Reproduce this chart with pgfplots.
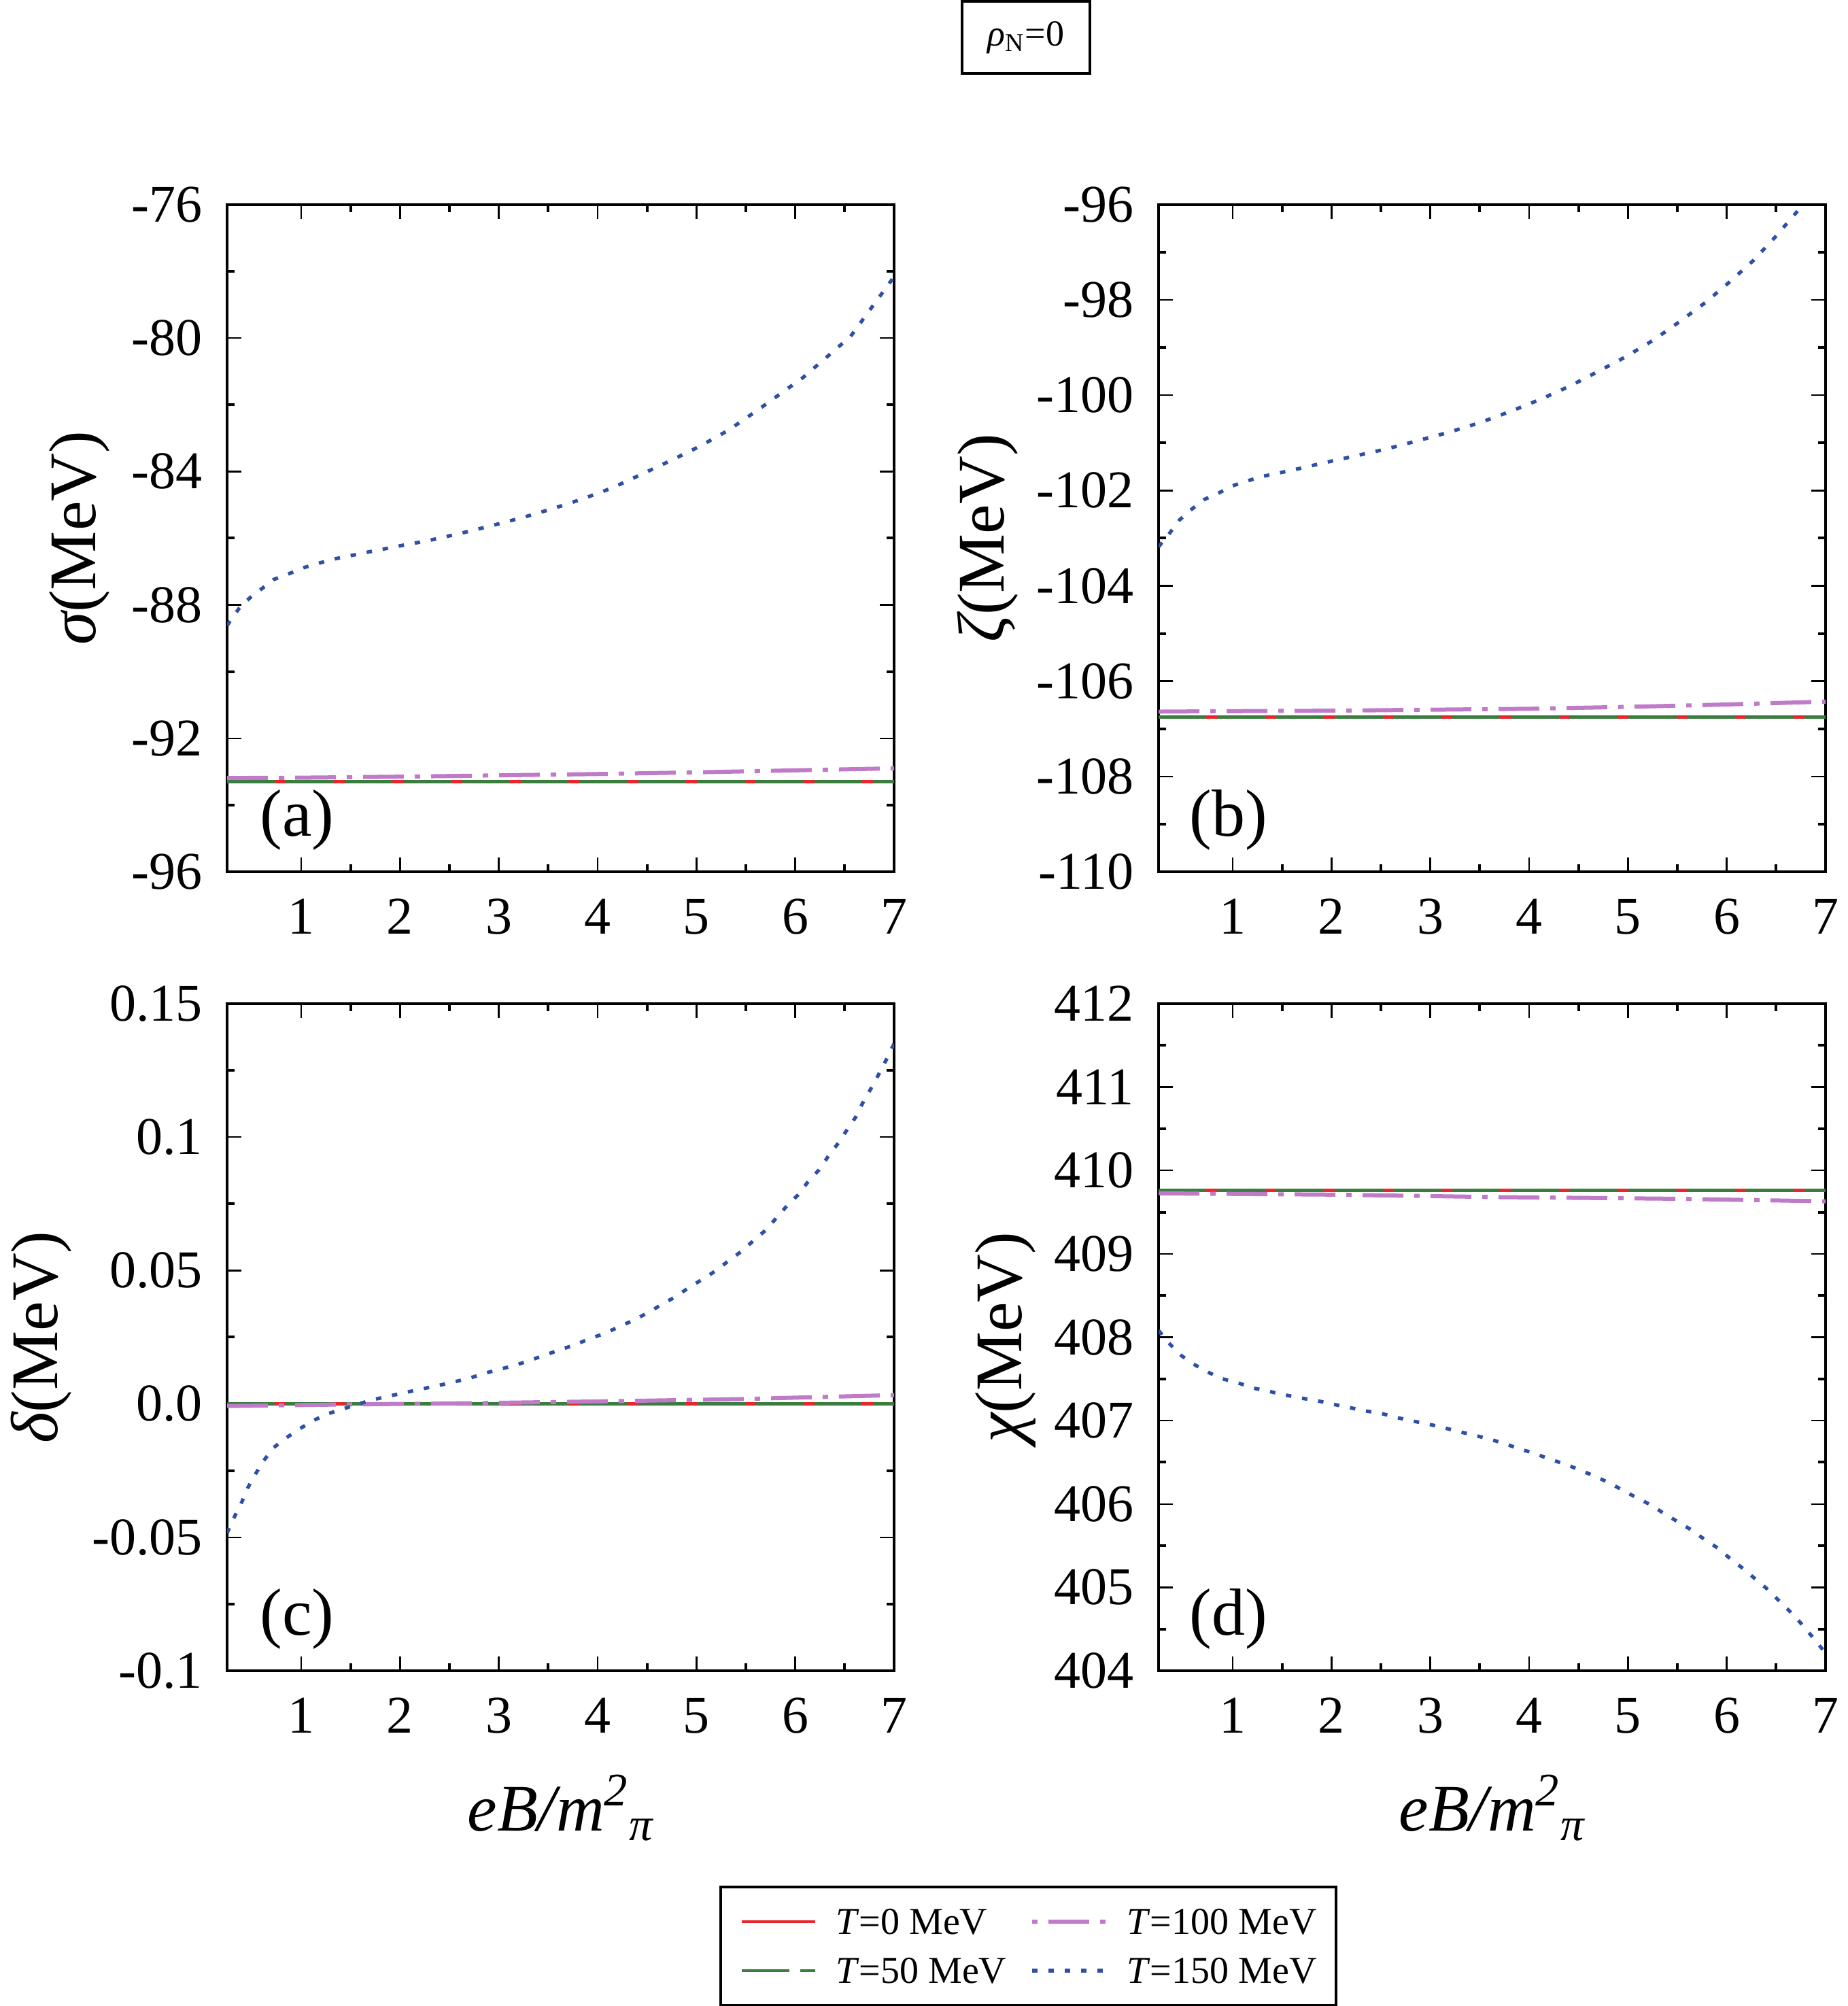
\documentclass[border=0pt]{standalone}
\usepackage{fontspec}
\setmainfont{Liberation Serif}
\newfontfamily\tnr{Liberation Serif}
\usepackage{pgfplots}
\pgfplotsset{compat=1.18}
\definecolor{cred}{HTML}{E8262B}
\definecolor{cgreen}{HTML}{3A7D3E}
\definecolor{cviolet}{HTML}{C07BC8}
\definecolor{cblue}{HTML}{2F4FA5}
\newcommand{\tl}[1]{\textrm{\tnr #1}}
\pgfplotsset{
  panel/.style={
    scale only axis, width=245.25pt, height=245.25pt,
    xmin=0.25, xmax=7,
    xtick={1,2,3,4,5,6,7}, xticklabels={\tl{1},\tl{2},\tl{3},\tl{4},\tl{5},\tl{6},\tl{7}},
    minor x tick num=1, minor y tick num=1,
    xtick pos=both, ytick pos=both,
    tick align=inside,
    major tick length=5.25pt, minor tick length=2.75pt,
    axis line style={line width=0.85pt},
    every major tick/.append style={line width=0.6pt, black},
    every minor tick/.append style={line width=1pt, black},
    tick label style={font=\tnr\fontsize{19.5}{22}\selectfont},
    xticklabel style={yshift=-6.5pt},
    yticklabel style={xshift=-5.5pt},
    every axis x label/.style={at={(rel axis cs:0.5,-0.2396)}, anchor=base,
      font=\tnr\fontsize{24.5}{28}\selectfont},
    legend image code/.code={\draw[#1] (0pt,0pt) -- (27pt,0pt);},
  },
  yl/.style={every axis y label/.style={at={(rel axis cs:#1,0.5)}, rotate=90, anchor=center,
      font=\tnr\fontsize{24.5}{28}\selectfont}},
  xl/.style={xlabel={\tnr\itshape eB/m\textsuperscript{\tnr\itshape 2}\textsubscript{\tnr\itshape π}}},
  t0/.style={color=cred, line width=1.2pt, solid},
  t50/.style={color=cgreen, line width=1.2pt, dash pattern=on 17.6pt off 4pt},
  t100/.style={color=cviolet, line width=1.5pt, dash pattern=on 15pt off 4pt on 2pt off 4pt,
    legend image code/.code={\draw[##1, dash phase=19pt] (0pt,0pt) -- (27pt,0pt);}},
  t150/.style={color=cblue, line width=1.3pt, dash pattern=on 2pt off 4pt},
}
\newcommand{\plab}[1]{\node[font=\tnr\fontsize{24.5}{28}\selectfont] at (rel axis cs:0.105,0.0775) {#1};}
\newcommand{\yl}[1]{\tnr{\itshape #1}(MeV)}
\begin{document}
\begin{tikzpicture}
\useasboundingbox (0,0) rectangle (679.25pt,737.5pt);
\node[draw, line width=1pt, minimum width=47pt, minimum height=26.5pt, inner sep=0pt,
      font=\tnr\fontsize{13.5}{15}\selectfont] at (377.25pt,723.75pt) {{\itshape ρ}\textsubscript{N}=0};

% ---------------- (a) sigma
\begin{axis}[panel, yl=-0.2215, at={(83.5pt,417pt)}, anchor=south west,
  ymin=-96, ymax=-76, ytick={-96,-92,-88,-84,-80,-76},
  yticklabels={\tl{-96},\tl{-92},\tl{-88},\tl{-84},\tl{-80},\tl{-76}},
  ylabel={\yl{σ}}]
\addplot[t0] coordinates {(0.25,-93.30) (1,-93.30) (2,-93.30) (3,-93.30) (4,-93.30) (5,-93.30) (6,-93.30) (7,-93.30)};
\addplot[t50] coordinates {(0.25,-93.30) (1,-93.30) (2,-93.30) (3,-93.30) (4,-93.30) (5,-93.30) (6,-93.30) (7,-93.30)};
\addplot[t100] coordinates {(0.25,-93.19) (1,-93.18) (2,-93.15) (3,-93.11) (4,-93.07) (5,-93.02) (6,-92.96) (7,-92.90)};
\addplot[t150] coordinates {
(0.25,-88.62) (0.30,-88.40) (0.37,-88.11) (0.48,-87.79) (0.59,-87.54) (0.72,-87.24)
(0.88,-87.06) (1.03,-86.88) (1.19,-86.74) (1.34,-86.62) (1.49,-86.53) (1.67,-86.42)
(1.98,-86.24) (2.29,-86.07) (2.62,-85.85) (2.92,-85.63) (3.23,-85.39) (3.54,-85.12)
(3.85,-84.82) (4.15,-84.49) (4.44,-84.09) (4.75,-83.66) (5.03,-83.25) (5.32,-82.77)
(5.61,-82.18) (6.08,-81.18) (6.56,-79.95) (7.00,-78.16)};
\plab{(a)}
\end{axis}

% ---------------- (b) zeta
\begin{axis}[panel, yl=-0.2564, at={(426pt,417pt)}, anchor=south west,
  ymin=-110, ymax=-96, ytick={-110,-108,-106,-104,-102,-100,-98,-96},
  yticklabels={\tl{-110},\tl{-108},\tl{-106},\tl{-104},\tl{-102},\tl{-100},\tl{-98},\tl{-96}},
  ylabel={\yl{ζ}}]
\addplot[t0] coordinates {(0.25,-106.75) (1,-106.75) (2,-106.75) (3,-106.75) (4,-106.75) (5,-106.75) (6,-106.75) (7,-106.75)};
\addplot[t50] coordinates {(0.25,-106.75) (1,-106.75) (2,-106.75) (3,-106.75) (4,-106.75) (5,-106.75) (6,-106.75) (7,-106.75)};
\addplot[t100] coordinates {(0.25,-106.64) (1,-106.63) (2,-106.62) (3,-106.60) (4,-106.58) (5,-106.54) (6,-106.49) (7,-106.43)};
\addplot[t150] coordinates {
(0.25,-103.18) (0.36,-102.90) (0.46,-102.62) (0.58,-102.40) (0.71,-102.19) (0.86,-102.05)
(1.00,-101.90) (1.16,-101.79) (1.31,-101.70) (1.47,-101.63) (1.63,-101.56) (1.94,-101.41)
(2.25,-101.27) (2.57,-101.12) (2.88,-100.95) (3.20,-100.77) (3.51,-100.57) (3.81,-100.34)
(4.11,-100.09) (4.41,-99.81) (4.69,-99.51) (4.98,-99.19) (5.26,-98.84) (5.52,-98.46)
(5.78,-98.06) (6.03,-97.62) (6.27,-97.17) (6.49,-96.68) (6.71,-96.15) (6.78,-95.98) (6.90,-95.65)};
\plab{(b)}
\end{axis}

% ---------------- (c) delta
\begin{axis}[panel, xl, yl=-0.279, at={(83.5pt,123.25pt)}, anchor=south west,
  ymin=-0.1, ymax=0.15, ytick={-0.1,-0.05,0,0.05,0.1,0.15},
  yticklabels={\tl{-0.1},\tl{-0.05},\tl{0.0},\tl{0.05},\tl{0.1},\tl{0.15}},
  ylabel={\yl{δ}},
  legend columns=2, transpose legend, legend cell align=left,
  legend style={at={(1.2013,-0.4128)}, anchor=center, draw=black, line width=1pt,
    font=\tnr\fontsize{14}{16}\selectfont, inner xsep=7pt, inner ysep=8pt, row sep=8.7pt,
    nodes={inner sep=0pt, text height=9.3pt, text depth=0pt},
    cells={anchor=west},
    /tikz/every odd column/.append style={column sep=7pt},
    /tikz/every even column/.append style={column sep=8.75pt}}]
\addplot[t0] coordinates {(0.25,0) (1,0) (2,0) (3,0) (4,0) (5,0) (6,0) (7,0)};
\addlegendentry{\textit{T}=0 MeV}
\addplot[t50] coordinates {(0.25,0) (1,0) (2,0) (3,0) (4,0) (5,0) (6,0) (7,0)};
\addlegendentry{\textit{T}=50 MeV}
\addplot[t100] coordinates {(0.25,-0.0008) (1.47,-0.0002) (2.79,0.0003) (4.11,0.0010) (5.43,0.0018) (7,0.0033)};
\addlegendentry{\textit{T}=100 MeV}
\addplot[t150] coordinates {
(0.25,-0.0484) (0.33,-0.0419) (0.40,-0.0367) (0.46,-0.0314) (0.54,-0.0261) (0.62,-0.0213)
(0.72,-0.0164) (0.85,-0.0127) (0.98,-0.0094) (1.13,-0.0061) (1.27,-0.0037) (1.43,-0.0018)
(1.58,0.0000) (1.74,0.0017) (1.91,0.0031) (2.07,0.0044) (2.23,0.0057) (2.39,0.0069)
(2.54,0.0082) (2.70,0.0096) (2.85,0.0114) (3.01,0.0130) (3.17,0.0145) (3.31,0.0163)
(3.46,0.0182) (3.61,0.0202) (3.76,0.0220) (3.91,0.0243) (4.07,0.0264) (4.21,0.0288)
(4.36,0.0313) (4.51,0.0342) (4.65,0.0373) (4.79,0.0402) (4.92,0.0435) (5.06,0.0467)
(5.20,0.0500) (5.32,0.0535) (5.46,0.0573) (5.58,0.0613) (5.71,0.0654) (5.81,0.0698)
(5.92,0.0744) (6.03,0.0784) (6.13,0.0833) (6.24,0.0877) (6.33,0.0926) (6.43,0.0975)
(6.52,0.1025) (6.61,0.1074) (6.68,0.1126) (6.76,0.1178) (6.84,0.1232) (6.92,0.1289) (7.00,0.1350)};
\addlegendentry{\textit{T}=150 MeV}
\plab{(c)}
\end{axis}

% ---------------- (d) chi
\begin{axis}[panel, xl, yl=-0.229, at={(426pt,123.25pt)}, anchor=south west,
  ymin=404, ymax=412, ytick={404,405,406,407,408,409,410,411,412},
  yticklabels={\tl{404},\tl{405},\tl{406},\tl{407},\tl{408},\tl{409},\tl{410},\tl{411},\tl{412}},
  ylabel={\yl{χ}}]
\addplot[t0] coordinates {(0.25,409.76) (1,409.76) (2,409.76) (3,409.76) (4,409.76) (5,409.76) (6,409.76) (7,409.76)};
\addplot[t50] coordinates {(0.25,409.76) (1,409.76) (2,409.76) (3,409.76) (4,409.76) (5,409.76) (6,409.76) (7,409.76)};
\addplot[t100] coordinates {(0.25,409.725) (2,409.71) (3.7,409.68) (5.5,409.66) (7,409.63)};
\addplot[t150] coordinates {
(0.25,408.08) (0.37,407.91) (0.48,407.78) (0.60,407.68) (0.75,407.58) (0.90,407.50)
(1.06,407.45) (1.21,407.39) (1.37,407.35) (1.52,407.31) (1.69,407.27) (1.85,407.24)
(2.00,407.20) (2.17,407.16) (2.32,407.12) (2.49,407.09) (2.65,407.04) (2.80,407.00)
(2.97,406.96) (3.12,406.92) (3.28,406.87) (3.43,406.83) (3.59,406.78) (3.74,406.73)
(3.90,406.66) (4.05,406.61) (4.20,406.54) (4.36,406.48) (4.51,406.41) (4.65,406.34)
(4.80,406.26) (4.94,406.17) (5.08,406.08) (5.23,405.99) (5.36,405.89) (5.50,405.79)
(5.64,405.69) (5.77,405.58) (5.91,405.47) (6.03,405.35) (6.16,405.23) (6.28,405.11)
(6.40,404.99) (6.52,404.85) (6.64,404.71) (6.75,404.57) (6.85,404.43) (6.96,404.27) (7.00,404.22)};
\plab{(d)}
\end{axis}
\end{tikzpicture}
\end{document}
